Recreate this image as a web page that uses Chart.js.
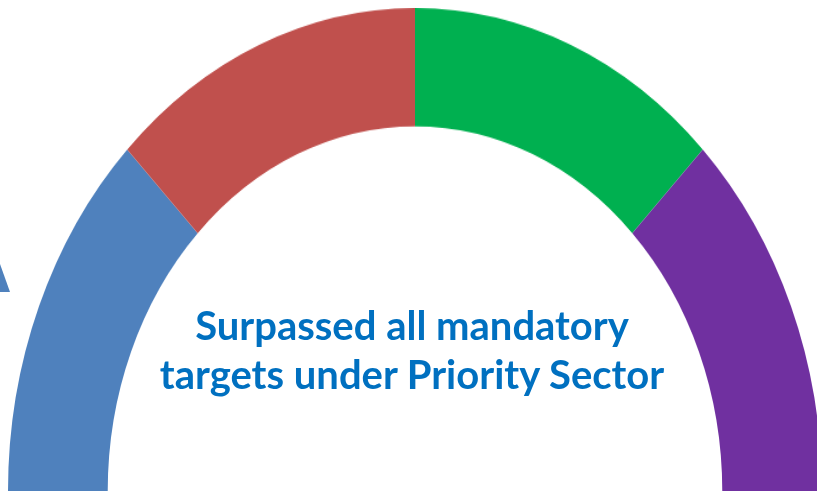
<!DOCTYPE html>
<html>
<head>
<meta charset="utf-8">
<script src="https://cdn.jsdelivr.net/npm/chart.js@4"></script>
<style>
  html, body {
    margin: 0;
    padding: 0;
    width: 817px;
    height: 491px;
    overflow: hidden;
    background: #ffffff;
  }
  #gauge {
    position: absolute;
    left: 0;
    top: 8px;
    transform-origin: 0 0;
    transform: scaleY(1.187);
  }
  #caption {
    position: absolute;
    left: 112px;
    top: 301px;
    width: 600px;
    text-align: center;
    font-family: Lato, "Open Sans", sans-serif;
    font-weight: bold;
    font-size: 40px;
    line-height: 49px;
    color: #0070c0;
  }
  #arrowTip {
    position: absolute;
    left: 0;
    top: 264px;
    width: 10px;
    height: 28px;
    background: #4f81bd;
    clip-path: polygon(0 0, 100% 100%, 0 100%);
  }
</style>
</head>
<body>
<div id="arrowTip"></div>
<canvas id="gauge" width="830" height="407"></canvas>
<div id="caption">Surpassed all mandatory<br>targets under Priority Sector</div>

<script>
// four equal bands of the half ring, left to right
const bandLabels = ["Band 1", "Band 2", "Band 3", "Band 4"];
const bandValues = [25, 25, 25, 25];
const bandColors = ["#4f81bd", "#c0504d", "#00b050", "#7030a0"];

const ctx = document.getElementById("gauge");

new Chart(ctx, {
  type: "doughnut",
  data: {
    labels: bandLabels,
    datasets: [
      {
        data: bandValues,
        backgroundColor: bandColors,
        borderWidth: 0,
        hoverOffset: 0,
      },
    ],
  },
  options: {
    responsive: false,
    animation: false,
    events: [],
    rotation: -90,
    circumference: 180,
    cutout: "75.5%",
    layout: {
      padding: 0,
    },
    plugins: {
      legend: { display: false },
      tooltip: { enabled: false },
    },
  },
});
</script>
</body>
</html>
